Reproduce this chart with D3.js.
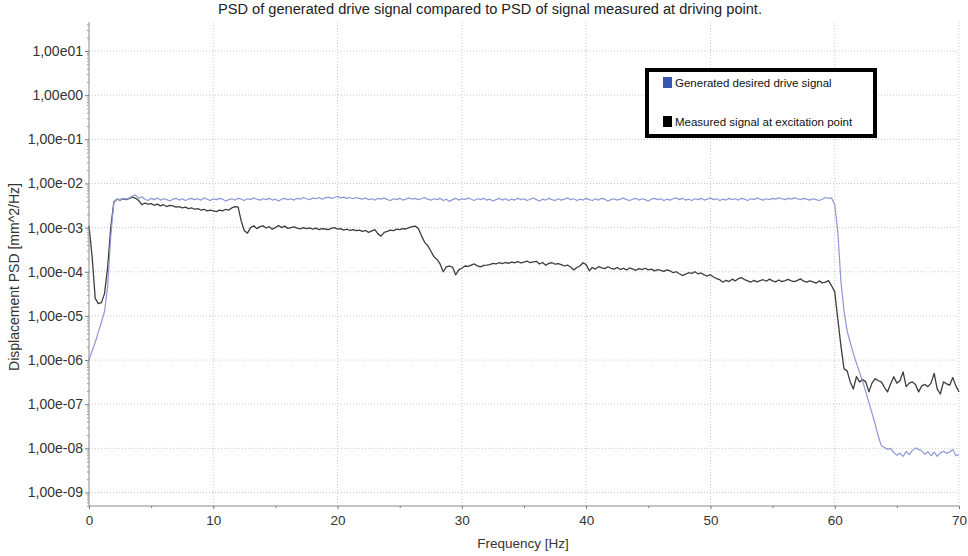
<!DOCTYPE html>
<html>
<head>
<meta charset="utf-8">
<script src="https://cdn.jsdelivr.net/npm/d3@7"></script>
<style>
  html, body { margin: 0; padding: 0; background: #fff; }
  svg { display: block; }
  text { font-family: "Liberation Sans", Arial, sans-serif; }
</style>
</head>
<body>
<svg id="chart" width="968" height="556"></svg>
<script>
// PSD spectra sampled on a 0.25 Hz grid from 0 to 70 Hz (mm^2/Hz)
const freqStepHz = 0.25;

const drivePSD = [
  1.0e-6, 1.6e-6, 2.5e-6, 4.3e-6, 7.2e-6, 1.26e-5, 4.5e-5, 6.3e-4,
  3.8e-3, 4.4e-3, 4.3e-3, 4.6e-3, 4.4e-3, 4.7e-3, 5.2e-3, 5.5e-3, 4.6e-3,
  5.0e-3, 4.4e-3, 4.1e-3, 4.6e-3, 4.3e-3, 4.7e-3, 4.2e-3, 4.5e-3,
  4.3e-3, 4.0e-3, 4.4e-3, 4.6e-3, 4.2e-3, 4.5e-3, 4.1e-3, 4.4e-3,
  4.6e-3, 4.3e-3, 4.5e-3, 4.2e-3, 4.7e-3, 4.4e-3, 4.1e-3, 4.5e-3,
  4.3e-3, 4.6e-3, 4.4e-3, 4.0e-3, 4.3e-3, 4.5e-3, 4.2e-3, 4.6e-3,
  4.4e-3, 4.1e-3, 4.5e-3, 4.3e-3, 4.7e-3, 4.4e-3, 4.2e-3, 4.5e-3,
  4.3e-3, 4.6e-3, 4.2e-3, 4.4e-3, 4.0e-3, 4.4e-3, 4.6e-3, 4.3e-3,
  4.5e-3, 4.2e-3, 4.6e-3, 4.4e-3, 4.8e-3, 4.5e-3, 4.3e-3, 4.7e-3,
  4.5e-3, 4.8e-3, 4.4e-3, 4.7e-3, 4.9e-3, 4.6e-3, 4.8e-3, 5.1e-3,
  4.7e-3, 4.9e-3, 4.6e-3, 4.8e-3, 4.5e-3, 4.8e-3, 4.6e-3, 4.4e-3,
  4.7e-3, 4.3e-3, 4.5e-3, 4.2e-3, 4.6e-3, 4.4e-3, 4.7e-3, 4.3e-3,
  4.1e-3, 4.5e-3, 4.3e-3, 4.6e-3, 4.2e-3, 4.4e-3, 4.7e-3, 4.4e-3,
  4.6e-3, 4.3e-3, 4.5e-3, 4.8e-3, 4.4e-3, 4.2e-3, 4.5e-3, 4.3e-3,
  4.6e-3, 4.1e-3, 4.4e-3, 3.9e-3, 4.3e-3, 4.6e-3, 4.2e-3, 4.5e-3,
  4.3e-3, 4.7e-3, 4.4e-3, 4.1e-3, 4.5e-3, 4.3e-3, 4.6e-3, 4.2e-3,
  4.4e-3, 4.0e-3, 4.3e-3, 4.6e-3, 4.2e-3, 4.5e-3, 4.1e-3, 4.4e-3,
  4.2e-3, 4.6e-3, 4.3e-3, 4.5e-3, 4.1e-3, 4.4e-3, 4.7e-3, 4.3e-3,
  4.0e-3, 4.4e-3, 4.2e-3, 4.6e-3, 4.3e-3, 4.1e-3, 4.5e-3, 4.2e-3,
  4.4e-3, 4.7e-3, 4.3e-3, 4.5e-3, 4.1e-3, 4.4e-3, 4.2e-3, 4.6e-3,
  4.3e-3, 4.1e-3, 4.5e-3, 4.2e-3, 4.6e-3, 4.4e-3, 4.0e-3, 4.3e-3,
  4.5e-3, 4.2e-3, 4.4e-3, 4.7e-3, 4.3e-3, 4.1e-3, 4.4e-3, 4.6e-3,
  4.2e-3, 4.5e-3, 4.3e-3, 4.0e-3, 4.4e-3, 4.6e-3, 4.3e-3, 4.5e-3,
  4.1e-3, 4.4e-3, 4.2e-3, 4.5e-3, 4.7e-3, 4.3e-3, 4.6e-3, 4.2e-3,
  4.4e-3, 4.1e-3, 4.5e-3, 4.3e-3, 4.6e-3, 4.2e-3, 4.4e-3, 4.7e-3,
  4.3e-3, 4.5e-3, 4.1e-3, 4.4e-3, 4.2e-3, 4.6e-3, 4.3e-3, 4.5e-3,
  4.2e-3, 4.6e-3, 4.4e-3, 4.1e-3, 4.5e-3, 4.3e-3, 4.7e-3, 4.4e-3,
  4.2e-3, 4.5e-3, 4.3e-3, 4.6e-3, 4.4e-3, 4.7e-3, 4.5e-3, 4.3e-3,
  4.6e-3, 4.4e-3, 4.7e-3, 4.5e-3, 4.3e-3, 4.6e-3, 4.4e-3, 4.2e-3,
  4.5e-3, 4.3e-3, 4.1e-3, 4.4e-3, 4.8e-3, 4.6e-3,
  4.7e-3, 3.3e-3, 8.0e-4, 6.0e-5, 1.3e-5, 4.5e-6, 2.5e-6, 1.4e-6,
  8.5e-7, 5.2e-7, 3.3e-7, 1.9e-7, 1.1e-7, 6.3e-8, 3.6e-8, 1.9e-8, 1.15e-8,
  1.05e-8, 9.5e-9, 1.0e-8, 8.0e-9, 7.0e-9, 7.8e-9, 6.6e-9, 8.5e-9,
  7.2e-9, 9.0e-9, 1.02e-8, 9.5e-9, 8.8e-9, 7.3e-9, 8.4e-9, 6.8e-9,
  8.2e-9, 6.6e-9, 7.9e-9, 8.6e-9, 7.7e-9, 8.3e-9, 9.4e-9, 6.8e-9, 7.2e-9
];

const measuredPSD = [
  1.1e-3, 2.2e-4, 2.5e-5, 1.9e-5, 2.0e-5, 3.2e-5, 1.26e-4, 1.0e-3,
  3.8e-3, 4.4e-3, 4.2e-3, 4.5e-3, 4.3e-3, 4.6e-3, 4.9e-3, 4.6e-3, 4.1e-3,
  3.3e-3, 3.6e-3, 3.4e-3, 3.5e-3, 3.2e-3, 3.4e-3, 3.1e-3, 3.3e-3,
  3.0e-3, 3.2e-3, 3.1e-3, 2.9e-3, 3.0e-3, 2.8e-3, 2.9e-3, 2.7e-3,
  2.8e-3, 2.6e-3, 2.7e-3, 2.5e-3, 2.6e-3, 2.4e-3, 2.5e-3, 2.4e-3,
  2.3e-3, 2.5e-3, 2.4e-3, 2.6e-3, 2.5e-3, 2.8e-3, 3.0e-3, 2.9e-3,
  1.4e-3, 8.5e-4, 7.5e-4, 1.0e-3, 1.1e-3, 9.5e-4, 1.05e-3, 1.1e-3,
  9.8e-4, 1.05e-3, 9.2e-4, 1.0e-3, 1.12e-3, 1.0e-3, 1.08e-3, 9.6e-4,
  1.0e-3, 1.04e-3, 9.7e-4, 9.4e-4, 1.0e-3, 9.5e-4, 9.8e-4, 9.2e-4,
  9.7e-4, 9.0e-4, 9.5e-4, 9.3e-4, 9.0e-4, 9.6e-4, 1.0e-3, 9.2e-4,
  9.5e-4, 8.8e-4, 9.2e-4, 8.6e-4, 9.0e-4, 8.5e-4, 8.8e-4, 8.2e-4,
  8.6e-4, 7.8e-4, 8.4e-4, 9.0e-4, 7.2e-4, 6.4e-4, 7.8e-4, 8.2e-4,
  8.8e-4, 8.5e-4, 9.2e-4, 9.0e-4, 9.5e-4, 9.3e-4, 1.0e-3, 1.05e-3,
  1.08e-3, 9.5e-4,
  6.5e-4, 4.7e-4, 3.9e-4, 2.95e-4, 2.2e-4, 1.9e-4, 1.5e-4, 1.0e-4,
  1.29e-4, 1.35e-4, 1.28e-4, 8.5e-5, 1.1e-4, 1.2e-4, 1.35e-4, 1.33e-4,
  1.42e-4, 1.5e-4, 1.36e-4, 1.29e-4, 1.4e-4, 1.42e-4,
  1.45e-4, 1.55e-4, 1.5e-4, 1.6e-4, 1.52e-4, 1.62e-4, 1.55e-4, 1.65e-4,
  1.6e-4, 1.7e-4, 1.58e-4, 1.65e-4, 1.75e-4, 1.6e-4, 1.68e-4, 1.72e-4,
  1.5e-4, 1.62e-4, 1.4e-4, 1.55e-4, 1.6e-4, 1.48e-4, 1.52e-4, 1.45e-4,
  1.35e-4, 1.42e-4, 1.28e-4, 1.1e-4, 1.25e-4, 1.35e-4, 1.6e-4, 1.45e-4,
  1.05e-4, 1.25e-4, 1.15e-4, 1.3e-4, 1.22e-4, 1.18e-4, 1.3e-4, 1.2e-4,
  1.15e-4, 1.25e-4, 1.12e-4, 1.2e-4, 1.1e-4, 1.22e-4, 1.15e-4, 1.08e-4,
  1.18e-4, 1.12e-4, 1.2e-4, 1.1e-4, 1.15e-4, 1.05e-4, 1.12e-4, 1.08e-4,
  1.02e-4, 1.1e-4, 1.05e-4, 9.5e-5, 1.0e-4, 9.0e-5, 8.2e-5, 8.8e-5,
  9.5e-5, 9.2e-5, 1.0e-4, 9.0e-5, 9.4e-5, 8.5e-5, 8.0e-5, 8.6e-5,
  7.6e-5, 7.0e-5, 6.6e-5, 5.8e-5, 6.4e-5, 6.0e-5, 6.8e-5, 6.2e-5,
  7.0e-5, 7.4e-5, 6.6e-5, 6.2e-5, 5.8e-5, 6.4e-5, 5.9e-5, 6.3e-5,
  6.6e-5, 6.1e-5, 6.8e-5, 6.2e-5, 5.9e-5, 6.5e-5, 6.0e-5, 6.3e-5,
  6.7e-5, 6.2e-5, 6.0e-5, 6.4e-5, 6.9e-5, 6.1e-5, 5.8e-5, 6.2e-5,
  5.9e-5, 5.5e-5, 6.2e-5, 5.6e-5, 5.8e-5, 6.3e-5,
  4.8e-5, 3.5e-5, 8.5e-6, 2.1e-6, 6.3e-7, 5.7e-7, 3.2e-7, 2.2e-7,
  4.2e-7, 3.2e-7, 3.6e-7, 3.2e-7, 1.9e-7, 3.0e-7, 3.8e-7, 3.4e-7,
  3.2e-7, 2.4e-7, 1.9e-7, 2.9e-7, 4.2e-7, 3.0e-7, 3.4e-7, 5.4e-7,
  2.5e-7, 3.0e-7, 3.2e-7, 2.8e-7, 1.9e-7, 2.6e-7, 2.8e-7, 2.5e-7,
  3.0e-7, 5.0e-7, 2.2e-7, 1.7e-7, 3.2e-7, 2.9e-7, 2.7e-7, 4.0e-7,
  2.6e-7, 1.9e-7
];

const xTickValues = [0, 10, 20, 30, 40, 50, 60, 70];
const xMinorTickValues = [5, 15, 25, 35, 45, 55, 65];
const yTickValues = [1e1, 1e0, 1e-1, 1e-2, 1e-3, 1e-4, 1e-5, 1e-6, 1e-7, 1e-8, 1e-9];
const yTickLabels = ["1,00e01", "1,00e00", "1,00e-01", "1,00e-02", "1,00e-03", "1,00e-04",
                     "1,00e-05", "1,00e-06", "1,00e-07", "1,00e-08", "1,00e-09"];

const seriesNames = ["Generated desired drive signal", "Measured signal at excitation point"];
const titleText = "PSD of generated drive signal compared to PSD of signal measured at driving point.";
const xTitle = "Frequency [Hz]";
const yTitle = "Displacement PSD [mm^2/Hz]";

const svg = d3.select("#chart");

const plot = { left: 89, right: 959, top: 22, bottom: 506 };

const x = d3.scaleLinear().domain([0, 70]).range([plot.left, plot.right]);
const y = d3.scaleLog().domain([1e-9, 1e1]).range([492.5, 51]);

// Grid
const grid = svg.append("g").attr("class", "grid");
grid.selectAll("line.gy").data(yTickValues).join("line")
  .attr("x1", plot.left).attr("x2", plot.right)
  .attr("y1", d => y(d)).attr("y2", d => y(d))
  .attr("stroke", "#c8c8c8").attr("stroke-width", 1)
  .attr("stroke-dasharray", "1,2");
grid.selectAll("line.gx").data(xTickValues.slice(1)).join("line")
  .attr("x1", d => x(d)).attr("x2", d => x(d))
  .attr("y1", plot.top).attr("y2", plot.bottom)
  .attr("stroke", "#c8c8c8").attr("stroke-width", 1)
  .attr("stroke-dasharray", "1,2");

// Lines
const pts = arr => arr.map((v, i) => [i * freqStepHz, v]);
const line = d3.line().x(d => x(d[0])).y(d => y(d[1]));

svg.append("path").datum(pts(measuredPSD))
  .attr("fill", "none").attr("stroke", "#3d3d3d").attr("stroke-width", 1.3)
  .attr("stroke-linejoin", "round").attr("d", line);
svg.append("path").datum(pts(drivePSD))
  .attr("fill", "none").attr("stroke", "#8d97d6").attr("stroke-width", 1.2)
  .attr("stroke-linejoin", "round").attr("d", line);

// X axis
const xAxis = svg.append("g").attr("transform", `translate(0,${plot.bottom})`)
  .call(d3.axisBottom(x).tickValues(xTickValues).tickFormat(d3.format("d"))
    .tickSizeInner(3).tickSizeOuter(0).tickPadding(6));
svg.append("g").attr("transform", `translate(0,${plot.bottom})`)
  .call(d3.axisBottom(x).tickValues(xMinorTickValues).tickFormat("")
    .tickSizeInner(2).tickSizeOuter(0))
  .call(g => g.select(".domain").remove());
xAxis.select(".domain").attr("stroke", "#8a8a8a").attr("d", `M${plot.left},0H${plot.right}`);
svg.selectAll(".tick line").attr("stroke", "#777");
xAxis.selectAll("text").attr("font-size", 13.5).attr("fill", "#333")
  .attr("font-family", "Liberation Sans, Arial, sans-serif");

// Y axis with minor log ticks
const yMinor = [];
for (let e = -10; e <= 1; e++) {
  for (const m of [2, 3, 4, 5, 6, 7, 8, 9]) {
    const v = m * Math.pow(10, e);
    if (y(v) >= plot.top && y(v) <= plot.bottom) yMinor.push(v);
  }
}
const yAxis = svg.append("g").attr("transform", `translate(${plot.left},0)`)
  .call(d3.axisLeft(y).tickValues(yTickValues)
    .tickFormat((d, i) => yTickLabels[i])
    .tickSizeInner(4).tickSizeOuter(0).tickPadding(2));
yAxis.select(".domain").attr("stroke", "#8a8a8a").attr("d", `M0,${plot.top}V${plot.bottom}`);
yAxis.selectAll(".tick line").attr("stroke", "#777");
yAxis.selectAll("text").attr("font-size", 14).attr("fill", "#333")
  .attr("font-family", "Liberation Sans, Arial, sans-serif");
svg.append("g").attr("transform", `translate(${plot.left},0)`)
  .call(d3.axisLeft(y).tickValues(yMinor).tickFormat("").tickSizeInner(2).tickSizeOuter(0))
  .call(g => g.select(".domain").remove())
  .selectAll(".tick line").attr("stroke", "#999");

// Titles
svg.append("text").attr("x", 490).attr("y", 14).attr("text-anchor", "middle")
  .attr("font-size", 14).attr("fill", "#222")
  .attr("textLength", 544).attr("lengthAdjust", "spacingAndGlyphs").text(titleText);
svg.append("text").attr("x", 523).attr("y", 548).attr("text-anchor", "middle")
  .attr("font-size", 13.5).attr("fill", "#333").text(xTitle);
svg.append("text").attr("transform", "translate(19,277) rotate(-90)")
  .attr("text-anchor", "middle").attr("font-size", 14).attr("fill", "#333").text(yTitle);

// Legend
const legend = svg.append("g");
legend.append("rect").attr("x", 647).attr("y", 70).attr("width", 228).attr("height", 66)
  .attr("fill", "#fff").attr("stroke", "#000").attr("stroke-width", 4);
const legendColors = ["#3557b0", "#000"];
const legendY = [83, 122];
seriesNames.forEach((name, i) => {
  legend.append("rect").attr("x", 663).attr("y", legendY[i] - 6).attr("width", 9).attr("height", 11)
    .attr("fill", legendColors[i]);
  legend.append("text").attr("x", 675).attr("y", legendY[i] + 4)
    .attr("font-size", 11.5).attr("fill", "#111")
    .attr("font-family", "Carlito, Lato, Liberation Sans, sans-serif").text(name);
});
</script>
</body>
</html>
